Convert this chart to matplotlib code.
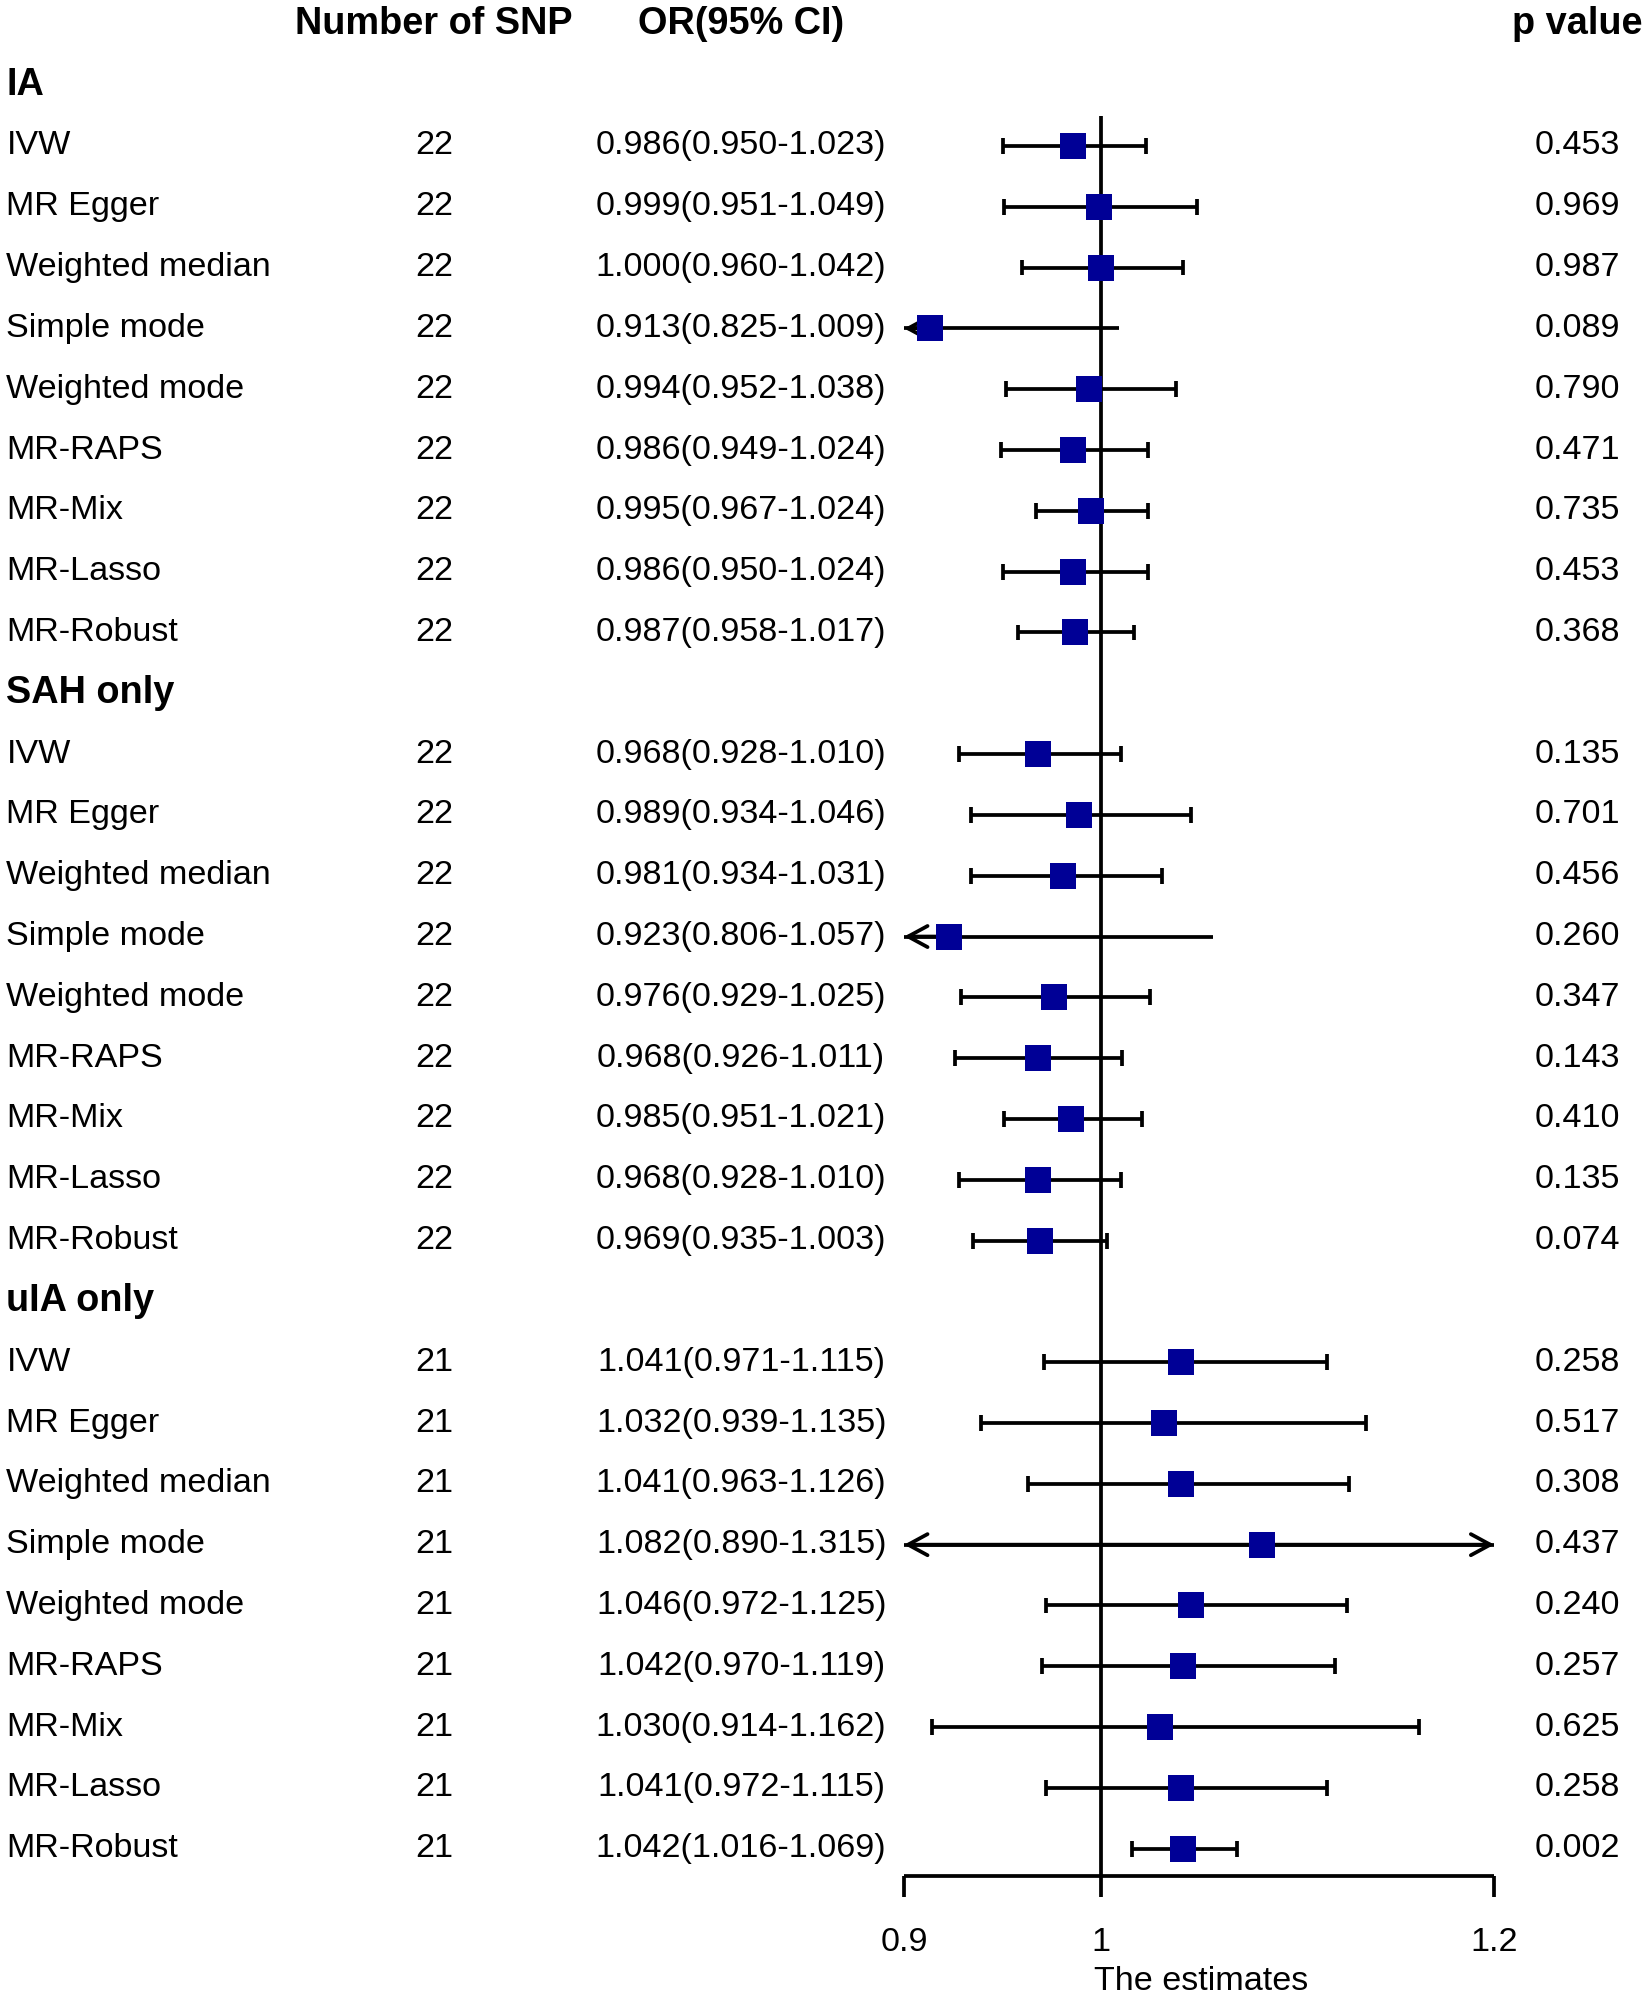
import matplotlib
matplotlib.use("Agg")
import matplotlib.pyplot as plt
import matplotlib.transforms as mtransforms

plt.rcParams['font.family'] = ['Liberation Sans', 'DejaVu Sans']

# ---------------- data ----------------
groups = ["IA", "SAH only", "uIA only"]
methods = ["IVW", "MR Egger", "Weighted median", "Simple mode", "Weighted mode",
           "MR-RAPS", "MR-Mix", "MR-Lasso", "MR-Robust"]
n_snp = [22, 22, 21]

or_ia = [0.986, 0.999, 1.000, 0.913, 0.994, 0.986, 0.995, 0.986, 0.987]
lo_ia = [0.950, 0.951, 0.960, 0.825, 0.952, 0.949, 0.967, 0.950, 0.958]
hi_ia = [1.023, 1.049, 1.042, 1.009, 1.038, 1.024, 1.024, 1.024, 1.017]
p_ia = ["0.453", "0.969", "0.987", "0.089", "0.790", "0.471", "0.735", "0.453", "0.368"]

or_sah = [0.968, 0.989, 0.981, 0.923, 0.976, 0.968, 0.985, 0.968, 0.969]
lo_sah = [0.928, 0.934, 0.934, 0.806, 0.929, 0.926, 0.951, 0.928, 0.935]
hi_sah = [1.010, 1.046, 1.031, 1.057, 1.025, 1.011, 1.021, 1.010, 1.003]
p_sah = ["0.135", "0.701", "0.456", "0.260", "0.347", "0.143", "0.410", "0.135", "0.074"]

or_uia = [1.041, 1.032, 1.041, 1.082, 1.046, 1.042, 1.030, 1.041, 1.042]
lo_uia = [0.971, 0.939, 0.963, 0.890, 0.972, 0.970, 0.914, 0.972, 1.016]
hi_uia = [1.115, 1.135, 1.126, 1.315, 1.125, 1.119, 1.162, 1.115, 1.069]
p_uia = ["0.258", "0.517", "0.308", "0.437", "0.240", "0.257", "0.625", "0.258", "0.002"]

xticks = [0.9, 1, 1.2]
xtick_labels = ["0.9", "1", "1.2"]
ref_value = 1.0
headers = ["Number of SNP", "OR(95% CI)", "p value"]
xlabel = "The estimates"

group_data = [
    (or_ia, lo_ia, hi_ia, p_ia),
    (or_sah, lo_sah, hi_sah, p_sah),
    (or_uia, lo_uia, hi_uia, p_uia),
]

# ---------------- layout ----------------
XMIN, XMAX = xticks[0], xticks[-1]
BOX = "#000096"
LW = 2.7
FS = 24.6
FSB = 27.3

fig = plt.figure(figsize=(16.5, 20.02), dpi=100)
ax = fig.add_axes([0, 0, 1, 1])
ax.set_xlim(0.4403, 1.2792)
ax.set_ylim(32.52, -0.40)
ax.axis("off")

tr = mtransforms.blended_transform_factory(ax.transAxes, ax.transData)
X_LABEL = 0.0039
X_SNP = 0.2631
X_OR = 0.4492
X_P = 0.9559

# headers
ax.text(X_SNP, 0, headers[0], transform=tr, ha="center", va="center",
        fontsize=FSB, fontweight="bold")
ax.text(X_OR, 0, headers[1], transform=tr, ha="center", va="center",
        fontsize=FSB, fontweight="bold")
ax.text(X_P, 0, headers[2], transform=tr, ha="center", va="center",
        fontsize=FSB, fontweight="bold")

row = 1
last_row = 0
for g, name in enumerate(groups):
    ax.text(X_LABEL, row, name, transform=tr, ha="left", va="center",
            fontsize=FSB, fontweight="bold")
    row += 1
    ors, los, his, ps = group_data[g]
    for i, m in enumerate(methods):
        y = row
        ax.text(X_LABEL, y, m, transform=tr, ha="left", va="center", fontsize=FS)
        ax.text(X_SNP, y, str(n_snp[g]), transform=tr, ha="center", va="center", fontsize=FS)
        ax.text(X_OR, y, f"{ors[i]:.3f}({los[i]:.3f}-{his[i]:.3f})", transform=tr,
                ha="center", va="center", fontsize=FS)
        ax.text(X_P, y, ps[i], transform=tr, ha="center", va="center", fontsize=FS)

        lo, hi, est = los[i], his[i], ors[i]
        clip_lo = lo < XMIN
        clip_hi = hi > XMAX
        a = max(lo, XMIN)
        b = min(hi, XMAX)
        if clip_lo or clip_hi:
            ax.plot([a, b], [y, y], color="black", lw=LW, solid_capstyle="butt", zorder=2)
            aprops = dict(arrowstyle="->,head_length=0.7,head_width=0.38", lw=LW,
                          color="black", shrinkA=0, shrinkB=0, mutation_scale=20)
            if clip_lo:
                ax.annotate("", xy=(XMIN, y), xytext=(est, y), arrowprops=aprops, zorder=2)
            if clip_hi:
                ax.annotate("", xy=(XMAX, y), xytext=(est, y), arrowprops=aprops, zorder=2)
        else:
            ax.plot([a, b], [y, y], color="black", lw=LW, solid_capstyle="butt", zorder=2)
            ax.vlines([a, b], y - 0.13, y + 0.13, color="black", lw=LW, zorder=2)
        ax.plot([est], [y], marker="s", markersize=18.5, color=BOX,
                markeredgewidth=0, linestyle="none", zorder=4)
        last_row = row
        row += 1

# reference line and x axis
axis_y = last_row + 0.44
ax.vlines(ref_value, 1.5, axis_y, color="black", lw=LW, zorder=3)
ax.plot([XMIN, XMAX], [axis_y, axis_y], color="black", lw=LW, solid_capstyle="butt")
ax.vlines(xticks, axis_y, axis_y + 0.35, color="black", lw=LW)
for t, lab in zip(xticks, xtick_labels):
    ax.text(t, axis_y + 1.1, lab, ha="center", va="center", fontsize=FS)
ax.text(1.051, axis_y + 1.74, xlabel, ha="center", va="center", fontsize=FS)

fig.savefig("out.png", dpi=100)
